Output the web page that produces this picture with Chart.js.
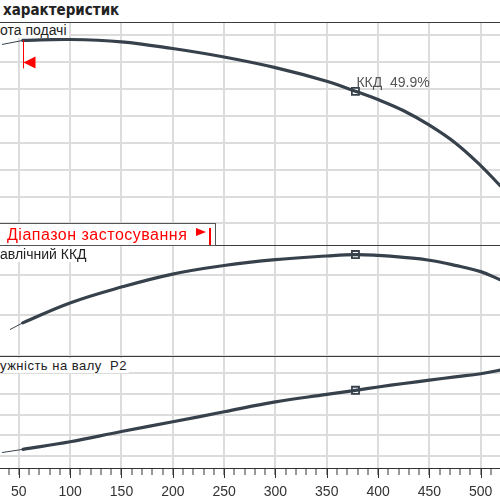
<!DOCTYPE html>
<html>
<head>
<meta charset="utf-8">
<script src="https://cdn.jsdelivr.net/npm/chart.js@4/dist/chart.umd.min.js"></script>
<style>
    body { margin: 0; background: #fff; }
    #wrap { position: relative; width: 500px; height: 500px; overflow: hidden; background: #fff; }
    #wrap canvas { position: absolute; left: 0; }
    .sep { position: absolute; left: 0; width: 500px; height: 1px; background: #3c3c3c; }
    .titulo { position: absolute; left: 3px; top: 1px; font: bold 15px "Liberation Sans Narrow", "DejaVu Sans Condensed"; color: #222; white-space: nowrap; }
    .etiqueta { position: absolute; left: 0; font-family: "Liberation Sans"; color: #222; background: #fff; white-space: nowrap; padding-right: 2px; }
    .rango { position: absolute; left: -1px; top: 223px; width: 215px; height: 21px; border: 1px solid #555; background: #fff;
             font: 16px "Liberation Sans"; color: #f00; white-space: nowrap; }
    .rango span { position: absolute; }
</style>
</head>
<body>
<div id="wrap">
    <div class="titulo">характеристик</div>
    <canvas id="chartH" width="500" height="223" style="top:22px"></canvas>
    <canvas id="chartE" width="500" height="111" style="top:245px"></canvas>
    <canvas id="chartP" width="500" height="153" style="top:356px"></canvas>
    <div class="sep" style="top:22px"></div>
    <div class="sep" style="top:245px"></div>
    <div class="sep" style="top:356px"></div>
    <div class="etiqueta" style="top:23px; font-size:14px; line-height:15px">ота подачі</div>
    <div class="etiqueta" style="top:247px; font-size:14px; line-height:15px">авлічний ККД</div>
    <div class="etiqueta" style="top:358px; font-size:13px; line-height:15px; letter-spacing:0.5px">ужність на валу&nbsp; P2</div>
    <div class="rango">
        <span style="left:7px; top:2px; letter-spacing:0.5px">Діапазон застосування</span>
        <span style="left:196px; top:4px; width:0; height:0; border-left:10px solid #f00; border-top:4px solid transparent; border-bottom:4px solid transparent"></span>
        <span style="left:209px; top:4px; width:2px; height:17px; background:#f00"></span>
    </div>
</div>
<script>
// Caudal (eje X)
const X_MIN = 31.8;
const X_MAX = 518.8;
const xMayores = [50, 100, 150, 200, 250, 300, 350, 400, 450, 500];
const xEtiquetas = ['50', '100', '150', '200', '250', '300', '350', '400', '450', '500'];

// Curvas (tramo fino = extrapolado, tramo grueso = rango de uso)
const qFinoH = [33.7, 54];
const alturaFina = [23.29, 23.59];
const qFinoE = [41.5, 54];
const kkdFino = [13.0, 16.3];
const qFinoP = [33.7, 54];
const p2Fino = [1.084, 1.162];

const caudal = [54, 100, 150, 200, 250, 300, 350, 378, 400, 425, 450, 475, 500, 519];
const altura = [23.59, 23.66, 23.49, 22.99, 22.36, 21.57, 20.56, 19.81, 19.2, 18.37, 17.3, 16.0, 14.3, 12.8];
const kkd = [16.3, 26.1, 33.9, 40.3, 44.5, 47.4, 49.2, 49.9, 49.5, 48.5, 47.1, 44.6, 41.5, 37.5];
const p2 = [1.162, 1.345, 1.592, 1.828, 2.07, 2.31, 2.49, 2.59, 2.67, 2.755, 2.835, 2.915, 2.99, 3.08];

// Punto de trabajo
const Q_TRABAJO = 378;
const H_TRABAJO = 19.81;
const KKD_TRABAJO = 49.9;
const P2_TRABAJO = 2.59;
const INICIO_RANGO = 54;

// Escalas Y
const yTicksH = [10, 12, 14, 16, 18, 20, 22, 24];
const yTicksE = [0, 20, 40];
const yTicksP = [1, 1.5, 2, 2.5, 3];

const COLOR_CURVA = '#37414c';
const COLOR_GRILLA = '#dcdcdc';

const pares = (xs, ys) => xs.map((x, i) => ({ x: x, y: ys[i] }));

function ejeX(abajo) {
    const eje = {
        type: 'linear', min: X_MIN, max: X_MAX,
        afterBuildTicks: s => { s.ticks = xMayores.map(v => ({ value: v })); },
        grid: { color: COLOR_GRILLA, lineWidth: 2, drawTicks: false },
        border: { display: false },
        ticks: { display: false }
    };
    if (abajo) {
        eje.afterBuildTicks = s => {
            const t = [];
            for (let v = 40; v <= 510; v += 10) t.push({ value: v });
            s.ticks = t;
        };
        eje.grid = {
            color: c => (c.tick && c.tick.value % 50 === 0) ? COLOR_GRILLA : 'rgba(0,0,0,0)',
            tickColor: '#333', lineWidth: 2, tickWidth: 1, tickLength: 7, drawTicks: true
        };
        eje.border = { display: true, color: '#333', width: 1 };
        eje.ticks = {
            display: true, autoSkip: false, maxRotation: 0, padding: 8.6,
            color: '#333', font: { family: 'Liberation Sans', size: 14 },
            callback: v => { const i = xMayores.indexOf(v); return i >= 0 ? xEtiquetas[i] : ''; }
        };
    }
    return eje;
}

function ejeY(min, max, ticks) {
    return {
        min: min, max: max,
        afterBuildTicks: s => { s.ticks = ticks.map(v => ({ value: v })); },
        grid: { color: COLOR_GRILLA, lineWidth: 2, drawTicks: false },
        border: { display: false },
        ticks: { display: false }
    };
}

function datasets(qF, yF, y, yT) {
    return [
        { data: pares(qF, yF), borderColor: COLOR_CURVA, borderWidth: 1, pointRadius: 0, tension: 0 },
        { data: pares(caudal, y), borderColor: COLOR_CURVA, borderWidth: 3.2, pointRadius: 0, tension: 0.4, borderCapStyle: 'round' },
        { data: [{ x: Q_TRABAJO, y: yT }], showLine: false, pointStyle: 'rect', pointRadius: 5,
          pointBackgroundColor: '#fff', pointBorderColor: COLOR_CURVA, pointBorderWidth: 1.8 }
    ];
}

const opcionesBase = (escalas) => ({
    responsive: false, animation: false, devicePixelRatio: 1,
    layout: { padding: 0, autoPadding: false },
    plugins: { legend: { display: false }, tooltip: { enabled: false } },
    scales: escalas
});

// Marcador rojo de inicio de rango y texto ККД
const marcasAltura = {
    id: 'marcasAltura',
    afterDraw(chart) {
        const { ctx, scales: { x, y } } = chart;
        const px = Math.round(x.getPixelForValue(INICIO_RANGO)) + 0.5;
        const top = y.getPixelForValue(alturaFina[1]);
        ctx.save();
        ctx.strokeStyle = '#f00';
        ctx.lineWidth = 1;
        ctx.beginPath(); ctx.moveTo(px, top); ctx.lineTo(px, top + 28); ctx.stroke();
        ctx.fillStyle = '#f00';
        ctx.beginPath();
        ctx.moveTo(px, top + 22); ctx.lineTo(px + 12, top + 16); ctx.lineTo(px + 12, top + 28); ctx.closePath();
        ctx.fill();
        const dx = x.getPixelForValue(Q_TRABAJO), dy = y.getPixelForValue(H_TRABAJO);
        ctx.fillStyle = '#555';
        ctx.font = '14px "Liberation Sans"';
        ctx.textBaseline = 'alphabetic';
        ctx.fillText('ККД  ' + KKD_TRABAJO.toFixed(1) + '%', dx + 1, dy - 4.5);
        ctx.restore();
    }
};

// Marcas mayores algo más largas en el eje inferior
const marcasMayores = {
    id: 'marcasMayores',
    afterDraw(chart) {
        const { ctx, scales: { x }, chartArea } = chart;
        ctx.save();
        ctx.strokeStyle = '#333';
        ctx.lineWidth = 1;
        xMayores.forEach(v => {
            const px = Math.round(x.getPixelForValue(v)) + 0.5;
            ctx.beginPath(); ctx.moveTo(px, chartArea.bottom); ctx.lineTo(px, chartArea.bottom + 10); ctx.stroke();
        });
        ctx.restore();
    }
};

new Chart(document.getElementById('chartH'), {
    type: 'line',
    data: { datasets: datasets(qFinoH, alturaFina, altura, H_TRABAJO) },
    options: opcionesBase({ x: ejeX(false), y: ejeY(8.4, 24.96, yTicksH) }),
    plugins: [marcasAltura]
});

new Chart(document.getElementById('chartE'), {
    type: 'line',
    data: { datasets: datasets(qFinoE, kkdFino, kkd, KKD_TRABAJO) },
    options: opcionesBase({ x: ejeX(false), y: ejeY(0, 54.6, yTicksE) })
});

new Chart(document.getElementById('chartP'), {
    type: 'line',
    data: { datasets: datasets(qFinoP, p2Fino, p2, P2_TRABAJO) },
    options: opcionesBase({ x: ejeX(true), y: ejeY(0.71, 3.42, yTicksP) }),
    plugins: [marcasMayores]
});
</script>
</body>
</html>
